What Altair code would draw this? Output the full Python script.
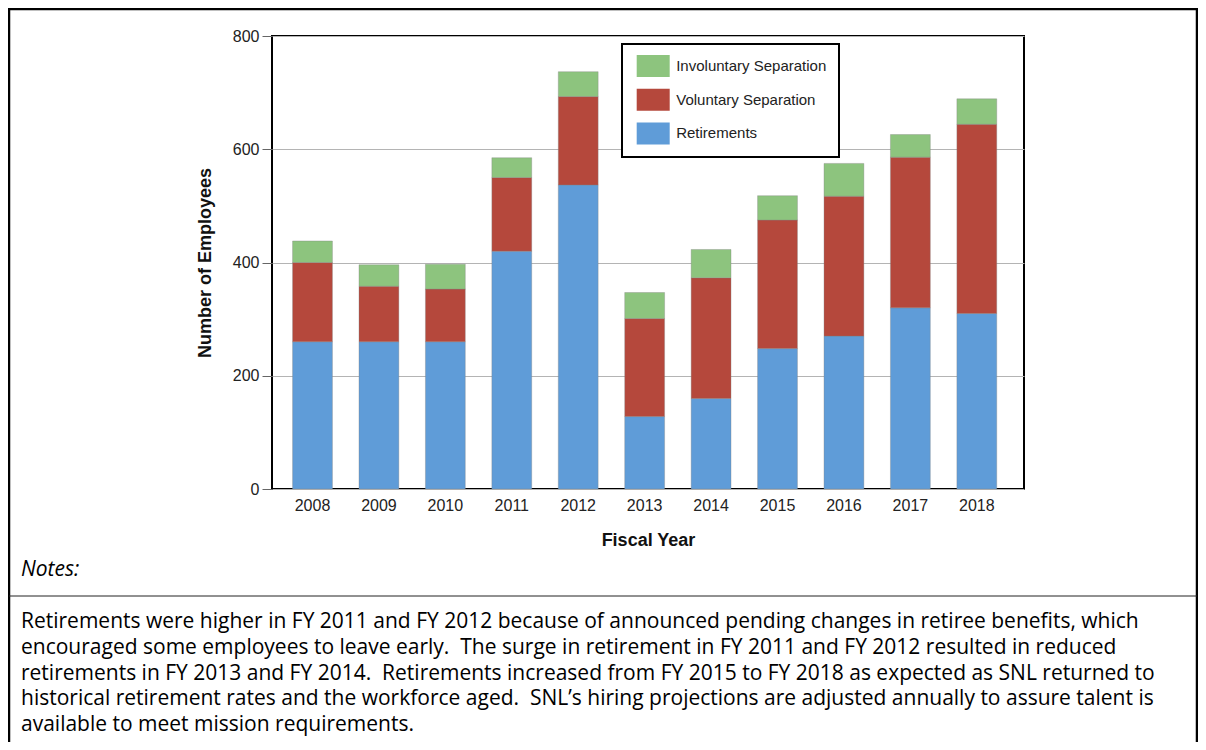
import altair as alt
import pandas as pd

# ---------------- data ----------------
YEARS = ["2008", "2009", "2010", "2011", "2012", "2013", "2014", "2015", "2016", "2017", "2018"]
RETIREMENTS = [260, 260, 260, 420, 537, 128, 160, 248, 270, 320, 310]
VOLUNTARY = [140, 98, 93, 130, 156, 173, 213, 227, 247, 266, 334]
INVOLUNTARY = [38, 38, 44, 35, 44, 46, 50, 43, 58, 40, 45]

SERIES = ["Involuntary Separation", "Voluntary Separation", "Retirements"]
COLORS = ["#8dc47e", "#b5483c", "#5f9cd8"]
Y_TICKS = [0, 200, 400, 600, 800]

NOTES_TITLE = "Notes:"
NOTES_LINES = [
    "Retirements were higher in FY 2011 and FY 2012 because of announced pending changes in retiree benefits, which",
    "encouraged some employees to leave early.\u00a0 The surge in retirement in FY 2011 and FY 2012 resulted in reduced",
    "retirements in FY 2013 and FY 2014.\u00a0 Retirements increased from FY 2015 to FY 2018 as expected as SNL returned to",
    "historical retirement rates and the workforce aged.\u00a0 SNL\u2019s hiring projections are adjusted annually to assure talent is",
    "available to meet mission requirements.",
]

rows = []
for i, yr in enumerate(YEARS):
    rows.append({"year": yr, "series": "Retirements", "value": RETIREMENTS[i], "rank": 0})
    rows.append({"year": yr, "series": "Voluntary Separation", "value": VOLUNTARY[i], "rank": 1})
    rows.append({"year": yr, "series": "Involuntary Separation", "value": INVOLUNTARY[i], "rank": 2})
df = pd.DataFrame(rows)
one = pd.DataFrame({"k": [0]})

W, H = 752, 453
AXIS_FONT = "Liberation Sans"
NOTE_FONT = "Open Sans"

bars = alt.Chart(df).mark_bar(stroke="#808080", strokeOpacity=0.35, strokeWidth=1).encode(
    x=alt.X(
        "year:O",
        sort=YEARS,
        scale=alt.Scale(paddingInner=0.4, paddingOuter=0.36, align=0.43),
        axis=alt.Axis(
            title="Fiscal Year",
            ticks=False,
            domain=False,
            grid=False,
            labelAngle=0,
            labelPadding=8,
            labelFont=AXIS_FONT,
            labelFontSize=16,
            labelColor="#222222",
            titleFont=AXIS_FONT,
            titleFontSize=18,
            titleFontWeight="bold",
            titleColor="#111111",
            titleX=W / 2,
            titleY=51,
            titleAlign="center",
            titleBaseline="middle",
        ),
    ),
    y=alt.Y(
        "value:Q",
        stack="zero",
        scale=alt.Scale(domain=[0, 800], nice=False),
        axis=alt.Axis(
            title="Number of Employees",
            values=Y_TICKS,
            tickSize=10,
            tickColor="#666666",
            labelPadding=3,
            domain=False,
            grid=True,
            gridColor="#b4b4b4",
            gridWidth=1,
            labelFont=AXIS_FONT,
            labelFontSize=16,
            labelColor="#222222",
            titleFont=AXIS_FONT,
            titleFontSize=18,
            titleFontWeight="bold",
            titleColor="#111111",
            titleX=-67,
            titleY=H / 2,
            titleAngle=270,
            titleAlign="center",
            titleBaseline="middle",
        ),
    ),
    color=alt.Color(
        "series:N",
        scale=alt.Scale(domain=SERIES, range=COLORS),
        legend=alt.Legend(
            title=None,
            orient="none",
            legendX=364.7,
            legendY=19,
            direction="vertical",
            symbolType="M-1.5,-1L1.5,-1L1.5,1L-1.5,1Z",
            symbolSize=484,
            symbolOffset=5.5,
            symbolStrokeWidth=0,
            symbolOpacity=1,
            labelOffset=12,
            labelFont=AXIS_FONT,
            labelFontSize=15,
            labelColor="#222222",
            rowPadding=11.7,
            padding=0,
        ),
    ),
    order=alt.Order("rank:Q"),
)

legend_box = alt.Chart(one).mark_rect(fill="white", stroke="black", strokeWidth=2).encode(
    x=alt.value(350), x2=alt.value(567), y=alt.value(8), y2=alt.value(121)
)

frame_left = alt.Chart(one).mark_rule(color="black", strokeWidth=2.5).encode(
    x=alt.value(-263), y=alt.value(-27), y2=alt.value(720)
)
frame_right = alt.Chart(one).mark_rule(color="black", strokeWidth=2.5).encode(
    x=alt.value(925), y=alt.value(-27), y2=alt.value(720)
)
frame_top = alt.Chart(one).mark_rule(color="black", strokeWidth=2.5).encode(
    x=alt.value(-264), x2=alt.value(926), y=alt.value(-27)
)
notes_rule = alt.Chart(one).mark_rule(color="#222222", strokeWidth=1).encode(
    x=alt.value(-263), x2=alt.value(925), y=alt.value(560)
)

notes_title = alt.Chart(one).mark_text(
    align="left", baseline="middle", font=NOTE_FONT, fontSize=21, fontStyle="italic", color="black"
).encode(x=alt.value(-251), y=alt.value(534), text=alt.value(NOTES_TITLE))

notes_body = alt.Chart(one).mark_text(
    align="left", baseline="middle", font=NOTE_FONT, fontSize=21, color="black", lineHeight=25.8
).encode(x=alt.value(-251), y=alt.value(586), text=alt.value(NOTES_LINES))

chart = alt.layer(
    legend_box, bars, frame_left, frame_right, frame_top, notes_rule, notes_title, notes_body
).properties(
    width=W,
    height=H,
    autosize=alt.AutoSizeParams(type="none"),
    padding={"left": 264, "top": 28, "right": 174, "bottom": 253},
).configure_view(stroke="black", strokeWidth=2)

chart.save("out.html", embed_options={"renderer": "svg", "actions": False})
